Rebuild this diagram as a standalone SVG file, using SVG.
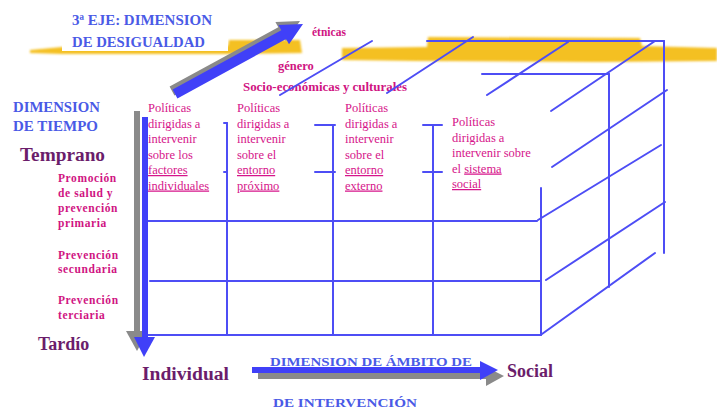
<svg xmlns="http://www.w3.org/2000/svg" width="717" height="409" viewBox="0 0 717 409">
  <style>
    .grid { stroke: #4d4df5; stroke-width: 2; fill: none; stroke-linecap: round; }
    .axis { fill: #4040f8; }
    .shadow { fill: #8a8a8a; }
    .hl { fill: #f4c020; }
    .capsb { font-family: "Liberation Serif", serif; font-weight: bold; fill: #4a5ae6; }
    .mag { font-family: "Liberation Serif", serif; fill: #d6158a; font-size: 12.5px; }
    .magb { font-family: "Liberation Serif", serif; font-weight: bold; fill: #d01482; }
    .dark { font-family: "Liberation Serif", serif; font-weight: bold; fill: #6b1d6b; font-size: 18px; }
    .u { text-decoration: underline; }
  </style>
  <defs>
    <filter id="marker-soft" filterUnits="userSpaceOnUse" x="0" y="0" width="717" height="100">
      <feGaussianBlur stdDeviation="0.9"/>
    </filter>
  </defs>

  <!-- highlighter strokes behind the titles -->
  <g id="highlights">
    <g filter="url(#marker-soft)">
      <path class="hl" d="M30,50 L62,47 L228,46 L229,40 L300,40 L302,53 L228,54 L62,54 L30,53 Z"/>
      <path class="hl" d="M342,48 L427,47 L428,37 L640,38 L642,46 L717,48 L717,61 L600,62 L420,61 L342,60 Z"/>
    </g>
    <rect x="62" y="4" width="166" height="47" fill="#ffffff"/>
  </g>

  <!-- third axis title -->
  <g id="axis-desigualdad-title">
    <text class="capsb" x="72" y="25" font-size="14" textLength="140" lengthAdjust="spacingAndGlyphs">3ª EJE: DIMENSION</text>
    <text class="capsb" x="72" y="47" font-size="14" textLength="133" lengthAdjust="spacingAndGlyphs">DE DESIGUALDAD</text>
  </g>

  <!-- depth axis arrow -->
  <g id="axis-desigualdad-arrow">
    <polygon class="shadow" transform="translate(-3,-3)" points="172.6,89.6 281.3,30.2 278.4,25.0 303,24 289.0,44.2 286.1,39.0 177.4,98.4"/>
    <polygon class="axis" points="172.6,89.6 281.3,30.2 278.4,25.0 303,24 289.0,44.2 286.1,39.0 177.4,98.4"/>
  </g>

  <!-- depth layer labels -->
  <g id="depth-labels">
    <text class="magb" x="312" y="36" font-size="11.5">étnicas</text>
    <text class="magb" x="278" y="70" font-size="12.5">género</text>
    <text class="magb" x="243" y="91" font-size="12.5" textLength="164" lengthAdjust="spacingAndGlyphs">Socio-económicas y culturales</text>
  </g>

  <!-- cube grid -->
  <g id="connectors">
    <!-- front face -->
    <line class="grid" x1="146" y1="221" x2="537" y2="221"/>
    <line class="grid" x1="150" y1="281" x2="541" y2="281"/>
    <line class="grid" x1="146" y1="335" x2="541" y2="335"/>
    <line class="grid" x1="227" y1="123" x2="227" y2="335"/>
    <line class="grid" x1="333" y1="125" x2="333" y2="335"/>
    <line class="grid" x1="433" y1="125" x2="433" y2="335"/>
    <line class="grid" x1="541" y1="188" x2="541" y2="335"/>
    <!-- ticks -->
    <line class="grid" x1="224" y1="123" x2="227" y2="123"/>
    <line class="grid" x1="224" y1="172" x2="227" y2="172"/>
    <line class="grid" x1="315" y1="125" x2="335" y2="125"/>
    <line class="grid" x1="315" y1="172" x2="335" y2="172"/>
    <line class="grid" x1="423" y1="125" x2="442" y2="125"/>
    <line class="grid" x1="423" y1="172" x2="442" y2="172"/>
    <!-- back edges -->
    <line class="grid" x1="427" y1="41" x2="664" y2="41"/>
    <line class="grid" x1="482" y1="74" x2="609" y2="74"/>
    <line class="grid" x1="609" y1="74" x2="609" y2="287"/>
    <line class="grid" x1="664" y1="41" x2="664" y2="253"/>
    <!-- receding lines -->
    <line class="grid" x1="280" y1="95" x2="372" y2="41"/>
    <line class="grid" x1="387" y1="93" x2="473" y2="37"/>
    <line class="grid" x1="487" y1="95" x2="568" y2="42"/>
    <line class="grid" x1="551" y1="111" x2="655" y2="41"/>
    <line class="grid" x1="552" y1="167" x2="667" y2="90"/>
    <line class="grid" x1="538" y1="220" x2="661" y2="145"/>
    <line class="grid" x1="546" y1="280" x2="665" y2="202"/>
    <line class="grid" x1="542" y1="334" x2="655" y2="253"/>
  </g>

  <!-- time axis -->
  <g id="axis-tiempo">
    <g class="shadow" transform="translate(-7,-6)">
      <rect x="141" y="117" width="6" height="224"/>
      <polygon points="133,337 155,337 144,357"/>
    </g>
    <rect class="axis" x="142" y="117" width="6" height="224"/>
    <polygon class="axis" points="134,337 155,337 144,357"/>
  </g>

  <!-- scope axis -->
  <g id="axis-ambito">
    <g class="shadow" transform="translate(6,6)">
      <rect x="252" y="367" width="232" height="6"/>
      <polygon points="480,361 480,380 498,370"/>
    </g>
    <rect class="axis" x="252" y="367" width="232" height="6"/>
    <polygon class="axis" points="480,361 480,380 498,370"/>
  </g>

  <!-- time axis labels -->
  <g id="label-tiempo">
    <text class="capsb" x="13" y="112" font-size="14" textLength="87" lengthAdjust="spacingAndGlyphs">DIMENSION</text>
    <text class="capsb" x="13" y="131" font-size="14" textLength="85" lengthAdjust="spacingAndGlyphs">DE TIEMPO</text>
    <text class="dark" x="20" y="161" textLength="85" lengthAdjust="spacingAndGlyphs">Temprano</text>
    <text class="dark" x="38" y="350">Tardío</text>
  </g>

  <g id="label-prevencion">
    <text class="magb" font-size="11.5" letter-spacing="0.6">
      <tspan x="58" y="182">Promoción</tspan>
      <tspan x="58" y="197">de salud y</tspan>
      <tspan x="58" y="212">prevención</tspan>
      <tspan x="58" y="227">primaria</tspan>
      <tspan x="58" y="259">Prevención</tspan>
      <tspan x="58" y="273">secundaria</tspan>
      <tspan x="58" y="304">Prevención</tspan>
      <tspan x="58" y="319">terciaria</tspan>
    </text>
  </g>

  <!-- column headings -->
  <g id="col-individual">
    <text class="mag">
      <tspan x="148" y="112">Políticas</tspan>
      <tspan x="148" y="127.5">dirigidas a</tspan>
      <tspan x="148" y="143">intervenir</tspan>
      <tspan x="148" y="158.5">sobre los</tspan>
      <tspan x="148" y="174" class="u">factores</tspan>
      <tspan x="148" y="189.5" class="u">individuales</tspan>
    </text>
  </g>
  <g id="col-proximo">
    <text class="mag">
      <tspan x="237" y="112">Políticas</tspan>
      <tspan x="237" y="127.5">dirigidas a</tspan>
      <tspan x="237" y="143">intervenir</tspan>
      <tspan x="237" y="158.5">sobre el</tspan>
      <tspan x="237" y="174" class="u">entorno</tspan>
      <tspan x="237" y="189.5" class="u">próximo</tspan>
    </text>
  </g>
  <g id="col-externo">
    <text class="mag">
      <tspan x="345" y="112">Políticas</tspan>
      <tspan x="345" y="127.5">dirigidas a</tspan>
      <tspan x="345" y="143">intervenir</tspan>
      <tspan x="345" y="158.5">sobre el</tspan>
      <tspan x="345" y="174" class="u">entorno</tspan>
      <tspan x="345" y="189.5" class="u">externo</tspan>
    </text>
  </g>
  <g id="col-social">
    <text class="mag">
      <tspan x="452" y="126">Políticas</tspan>
      <tspan x="452" y="141.5">dirigidas a</tspan>
      <tspan x="452" y="157">intervenir sobre</tspan>
      <tspan x="452" y="172.5">el  </tspan><tspan class="u">sistema</tspan>
      <tspan x="452" y="188" class="u">social</tspan>
    </text>
  </g>

  <!-- scope axis labels -->
  <g id="label-ambito">
    <text class="dark" x="142" y="380" textLength="87" lengthAdjust="spacingAndGlyphs">Individual</text>
    <text class="dark" x="507" y="377">Social</text>
    <text class="capsb" x="270" y="366" font-size="12" textLength="202" lengthAdjust="spacingAndGlyphs">DIMENSION DE ÁMBITO DE</text>
    <text class="capsb" x="273" y="407" font-size="12" textLength="144" lengthAdjust="spacingAndGlyphs">DE  INTERVENCIÓN</text>
  </g>
</svg>
